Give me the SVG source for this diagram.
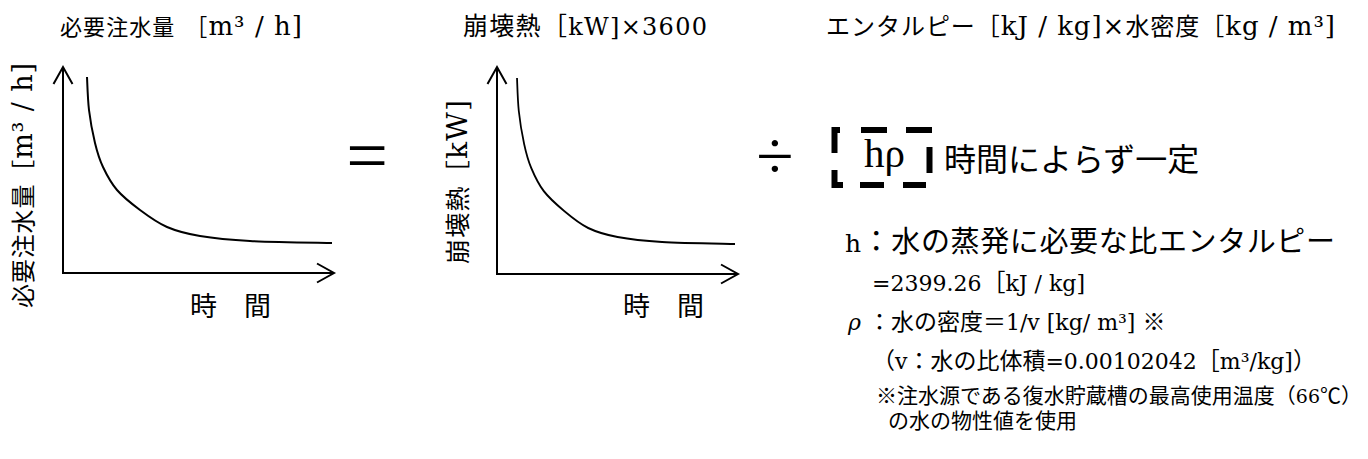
<svg xmlns="http://www.w3.org/2000/svg" width="1368" height="459" viewBox="0 0 1368 459">
<style>
text { font-family: "DejaVu Serif", "Noto Sans CJK JP", serif; fill: #000; }
.j { font-family: "Noto Sans CJK JP", sans-serif; }
.l { font-family: "DejaVu Serif", serif; }
.t { font-family: "Liberation Serif", serif; }
.n { font-family: "Liberation Serif", "Noto Sans CJK JP", serif; }
.ax { fill: none; stroke: #000; stroke-width: 2; }
.cv { fill: none; stroke: #000; stroke-width: 2; }
.dash { fill: none; stroke: #000; stroke-width: 6; }
</style>
<defs>
<marker id="arr" markerUnits="userSpaceOnUse" markerWidth="22" markerHeight="24" refX="18" refY="10" orient="auto" overflow="visible">
<path d="M1,0.5 L18,10 L1,19.5" fill="none" stroke="#000" stroke-width="2"/>
</marker>
<path id="curve" d="M87,77 C87.3,82.5 87.7,99 89,110 C90.3,121 92.7,133.5 95,143 C97.3,152.5 99.3,159.2 103,167 C106.7,174.8 110.8,182.8 117,190 C123.2,197.2 131.7,203.8 140,210 C148.3,216.2 157,222.7 167,227 C177,231.3 186.2,233.7 200,236 C213.8,238.3 228,239.8 250,241 C272,242.2 318.3,242.7 332,243"/>
</defs>
<rect width="1368" height="459" fill="#fff"/>

<g id="title-left"><text x="60" y="35" font-size="26" textLength="242" lengthAdjust="spacing"><tspan class="j" font-size="22">必要注水量</tspan><tspan class="j" font-size="22" dx="10">［</tspan>m³ / h]</text></g>
<g id="title-mid"><text x="463" y="35" font-size="24" textLength="244" lengthAdjust="spacing"><tspan class="j" font-size="25">崩壊熱［</tspan>kW]×3600</text></g>
<g id="title-right"><text x="826" y="35" font-size="26" textLength="509" lengthAdjust="spacing"><tspan class="j" font-size="24">エンタルピー［</tspan>kJ / kg]×<tspan class="j" font-size="24">水密度［</tspan>kg / m³]</text></g>

<g id="graph-left">
<text transform="translate(32,185.5) rotate(-90)" text-anchor="middle" font-size="27" textLength="245" lengthAdjust="spacing"><tspan class="j" font-size="24">必要注水量［</tspan>m³ / h]</text>
<use href="#curve" class="cv"/>
<text class="j" x="190" y="316" font-size="27">時　間</text>
</g>

<g id="graph-right">
<text transform="translate(467,182) rotate(-90)" text-anchor="middle" font-size="28" textLength="164" lengthAdjust="spacing"><tspan class="j" font-size="25">崩壊熱［</tspan>kW]</text>
<use href="#curve" class="cv" transform="matrix(0.8898 0 0 1 439.6 1)" vector-effect="non-scaling-stroke"/>
<text class="j" x="623" y="316" font-size="27">時　間</text>
</g>

<g id="connectors">
<path class="ax" d="M63,273 H334" marker-end="url(#arr)"/>
<path class="ax" d="M63,274 V67" marker-end="url(#arr)"/>
<path class="ax" d="M497,274 H738" marker-end="url(#arr)"/>
<path class="ax" d="M497,275 V67" marker-end="url(#arr)"/>
</g>

<g id="equals"><text class="t" x="367" y="180" font-size="74" text-anchor="middle">=</text></g>
<g id="divide"><text class="t" x="775" y="179" font-size="68" text-anchor="middle">÷</text></g>

<g id="hrho-box">
<path class="dash" d="M834.5,153 V130 H840 M861,130 H887 M906,130 H932 M929.5,147 V173 M926,185 H903 M884,185 H860 M843,185 H834.5 V170"/>
<text class="t" x="864" y="167" font-size="41">hρ</text>
</g>
<g id="constant-note"><text class="j" x="944" y="171" font-size="32">時間によらず一定</text></g>

<g id="notes">
<text x="845" y="252" font-size="25" textLength="490" lengthAdjust="spacing">h<tspan class="j" font-size="29">：水の蒸発に必要な比エンタルピー</tspan></text>
<text x="872" y="291" font-size="22">=2399.26<tspan class="j" font-size="24">［</tspan>kJ / kg]</text>
<text x="848" y="330" font-size="22"><tspan font-style="italic">ρ</tspan> <tspan class="j" font-size="23">：水の密度＝</tspan>1/v [kg/ m³] <tspan class="j" font-size="23">※</tspan></text>
<text x="872" y="369" font-size="22"><tspan class="j" font-size="23">（</tspan>v<tspan class="j" font-size="23">：水の比体積</tspan>=0.00102042<tspan class="j" font-size="23">［</tspan>m³/kg]<tspan class="j" font-size="23">）</tspan></text>
<text class="n" font-size="21"><tspan x="876" y="403">※注水源である復水貯蔵槽の最高使用温度（<tspan class="l" font-size="19">66</tspan>℃）</tspan><tspan x="888" y="428">の水の物性値を使用</tspan></text>
</g>
</svg>
